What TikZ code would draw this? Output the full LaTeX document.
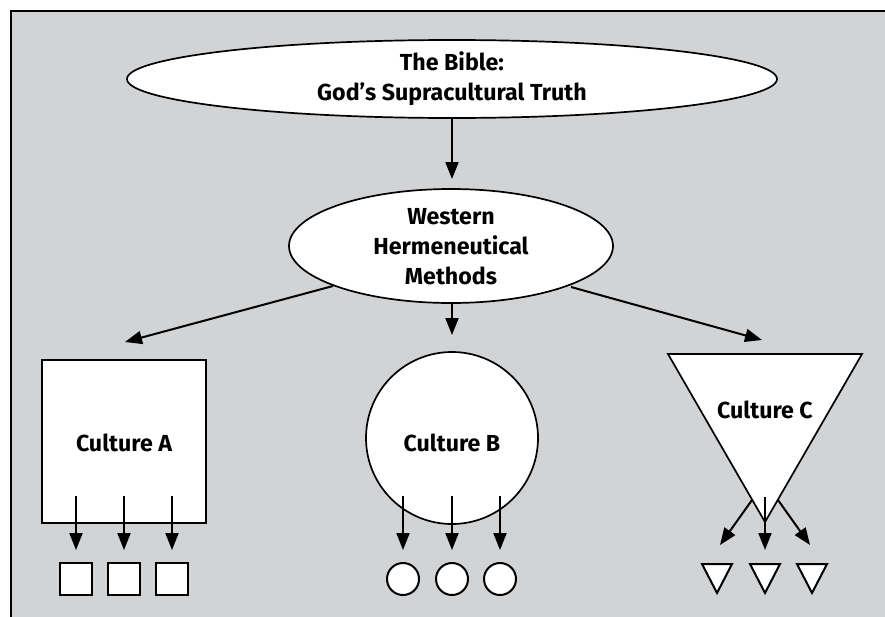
\documentclass[tikz,border=0pt]{standalone}
\usepackage{fontspec}
\setmainfont{Fira Sans}[BoldFont={Fira Sans Bold}]
\usetikzlibrary{arrows.meta,shapes.geometric}
\definecolor{panelgray}{RGB}{210,211,213}
\tikzset{
  lbl/.style={font=\bfseries\fontsize{23.2}{30}\selectfont, align=center, inner sep=0pt},
  shp/.style={draw=black, line width=1.7pt, fill=white, inner sep=0pt},
  arr/.style={draw=black, line width=2pt, -{Triangle[length=17pt,width=13pt]}},
  small/.style={draw=black, line width=2pt, fill=white},
}
\begin{document}
\begin{tikzpicture}[x=1pt,y=-1pt]
\useasboundingbox (0,0) rectangle (885,616);
\clip (0,0) rectangle (885,616);
% panel
\fill[panelgray] (11,11) rectangle (900,630);
\draw[line width=2.4pt] (11,630) -- (11,11) -- (900,11);
% top ellipse
\node[shp, ellipse, minimum width=650pt, minimum height=78pt] (bible) at (452,79) {};
\node[lbl] (bibleT) at (452,79) {The Bible:\\God’s Supracultural Truth};
% second ellipse
\node[shp, ellipse, minimum width=324pt, minimum height=114pt] (west) at (451,246) {};
\node[lbl] (westT) at (451,247) {Western\\Hermeneutical\\Methods};
% culture A
\node[shp, rectangle, minimum width=164pt, minimum height=163pt] (cA) at (124,441.5) {};
\node[lbl] (cAT) at (124,443) {Culture A};
% culture B
\node[shp, circle, minimum size=172pt] (cB) at (452,438) {};
\node[lbl] (cBT) at (452,443) {Culture B};
% culture C triangle
\coordinate (cC1) at (668,354);
\coordinate (cC2) at (862,354);
\coordinate (cCapex) at (765,522);
\draw[shp] (cC1) -- (cC2) -- (cCapex) -- cycle;
\node[lbl] (cCT) at (765,410) {Culture C};
% main arrows
\coordinate (a1s) at (452,118);
\coordinate (a1e) at (452,179);
\draw[arr] (a1s) -- (a1e);
\coordinate (lAs) at (333,286);
\coordinate (lAe) at (125,342);
\draw[arr] (lAs) -- (lAe);
\coordinate (mAs) at (452,303);
\coordinate (mAe) at (452,335);
\draw[arr] (mAs) -- (mAe);
\coordinate (rAs) at (571,287);
\coordinate (rAe) at (762,340);
\draw[arr] (rAs) -- (rAe);
% culture A sub arrows and squares
\foreach \i/\x in {1/76,2/124,3/172}{
  \coordinate (sAs\i) at (\x,496);
  \coordinate (sAe\i) at (\x,550);
  \draw[arr] (sAs\i) -- (sAe\i);
  \node[small, rectangle, minimum size=32pt, inner sep=0pt] (sqA\i) at (\x,579) {};
}
% culture B sub arrows and circles
\foreach \i/\x in {1/403,2/452,3/500}{
  \coordinate (sBs\i) at (\x,496);
  \coordinate (sBe\i) at (\x,550);
  \draw[arr] (sBs\i) -- (sBe\i);
  \node[small, circle, minimum size=32pt, inner sep=0pt] (ciB\i) at (\x,579) {};
}
% culture C sub arrows and triangles
\coordinate (sCs1) at (752,500); \coordinate (sCe1) at (720,545);
\coordinate (sCs2) at (765,497); \coordinate (sCe2) at (765,550);
\coordinate (sCs3) at (778,500); \coordinate (sCe3) at (810,545);
\foreach \i in {1,2,3}{ \draw[arr] (sCs\i) -- (sCe\i); }
\foreach \i/\x in {1/717,2/765,3/812}{
  \draw[small] (\x-15,564) -- (\x+15,564) -- (\x,593) -- cycle;
}
\end{tikzpicture}
\end{document}
